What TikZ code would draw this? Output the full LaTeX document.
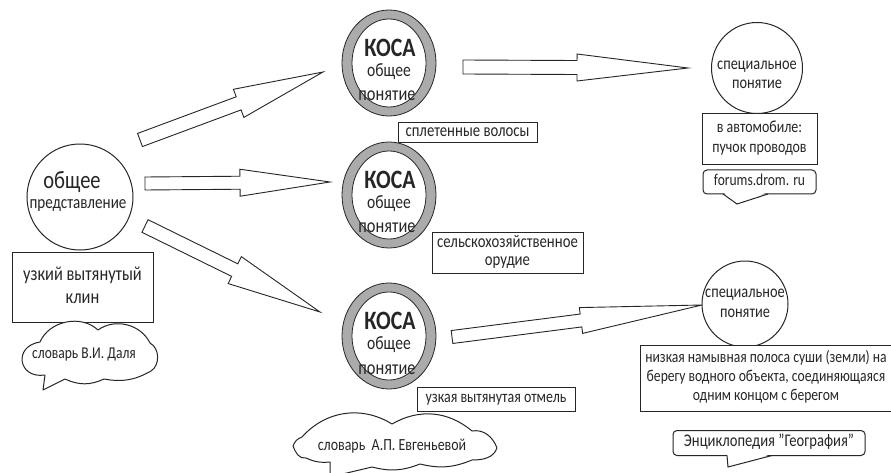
\documentclass[tikz,border=0pt]{standalone}
\usepackage{fontspec}
\setmainfont{Carlito}
\usetikzlibrary{calc,shapes.geometric}
\definecolor{ink}{HTML}{262626}
\definecolor{ringgray}{HTML}{ABABAB}
\newcommand{\sq}[1]{\scalebox{0.82}[1]{\begin{tabular}{@{}c@{}}#1\end{tabular}}}
\tikzset{
  ln/.style={draw=ink, line width=1pt},
  boxnode/.style={ln, fill=white, rectangle, inner sep=0pt, align=center, text=ink},
  txt/.style={text=ink, inner sep=0pt, align=center},
  fs/.style 2 args={font=\fontsize{#1}{#2}\selectfont},
  outerring/.style={ellipse, draw=ink, line width=0.8pt, fill=ringgray, minimum width=94pt, minimum height=106pt, inner sep=0pt},
  innerring/.style={ellipse, draw=ink, line width=0.8pt, fill=white, minimum width=74pt, minimum height=88pt, inner sep=0pt},
  plaincircle/.style={circle, ln, fill=white, inner sep=0pt},
  cloudpath/.style={ln, fill=white, line join=round},
  calloutbox/.style={ln, fill=white, rectangle, rounded corners=4pt, inner sep=0pt, text=ink},
  blockarrow/.style={draw=ink, line width=0.9pt, fill=white, line join=miter},
}
\newcommand{\blockarr}[5]{%
  \coordinate (hb) at ($(#2)!#5!(#1)$);
  \path[blockarrow] ($(#1)!#3!90:(#2)$) -- ($(hb)!#3!90:(#2)$) -- ($(hb)!#4!90:(#2)$) -- (#2)
    -- ($(hb)!#4!-90:(#2)$) -- ($(hb)!#3!-90:(#2)$) -- ($(#1)!#3!-90:(#2)$) -- cycle;
}
\begin{document}
\begin{tikzpicture}[x=1pt, y=-1pt]
\useasboundingbox[fill=white] (0,0) rectangle (891,473);

% arrow end points
\coordinate (a1s) at (140,140); \coordinate (a1e) at (323,72);
\coordinate (a2s) at (145,183.5); \coordinate (a2e) at (330,182);
\coordinate (a3s) at (145,226); \coordinate (a3e) at (320,312);
\coordinate (a4s) at (463,67);  \coordinate (a4e) at (688,68);
\coordinate (a5s) at (452,337); \coordinate (a5e) at (702,305);
\blockarr{a1s}{a1e}{7pt}{15pt}{90pt}
\blockarr{a2s}{a2e}{6.5pt}{13.5pt}{90pt}
\blockarr{a3s}{a3e}{7pt}{15pt}{95pt}
\blockarr{a4s}{a4e}{7pt}{13.5pt}{111pt}
\blockarr{a5s}{a5e}{6.5pt}{13pt}{122pt}

% left part
\node[plaincircle, minimum size=106pt] (gen) at (80,197) {};
\node[txt, fs={25}{25}] (gen1) at (72,184) {\sq{общее}};
\node[txt, fs={18.4}{18.4}] (gen2) at (78,205) {\sq{представление}};
\node[boxnode, minimum width=141pt, minimum height=70pt, fs={20}{23}] (wedge) at (82.5,287)
  {\sq{узкий вытянутый\\клин}};
\path[cloudpath] (40,342) to[bend left=55] (98,330) to[bend left=50] (150,343)
  to[bend left=60] (151,371) to[bend left=20] (104,379) to[bend left=25] (65,379)
  -- (43,390) coordinate (dalt) -- (45,375) to[bend left=90, looseness=2.1] cycle;
\node[txt, fs={16.5}{16.5}] (daltext) at (84,355) {\sq{словарь В.И. Даля}};

% KOSA circles
\foreach \nm/\cy in {k1/63, k2/195, k3/336}{
  \node[outerring] (\nm) at (389,\cy) {};
  \node[innerring] (\nm i) at (389,\cy) {};
  \node[txt, font=\bfseries\fontsize{26.5}{26.5}\selectfont] (\nm a) at (390,\cy-12) {\sq{КОСА}};
  \node[txt, fs={19}{19}] (\nm b) at (389,\cy+10) {\sq{общее}};
  \node[txt, fs={20}{20}] (\nm c) at (387,\cy+34) {\sq{понятие}};
}
\node[boxnode, minimum width=139pt, minimum height=20pt, fs={18}{18}] (l1) at (467.5,133) {\sq{сплетенные волосы}};
\node[boxnode, minimum width=151pt, minimum height=41pt, fs={18}{18}] (l2) at (507.5,252.5) {\sq{сельскохозяйственное\\орудие}};
\node[boxnode, minimum width=158pt, minimum height=24pt, fs={17}{17}] (l3) at (496,399) {\sq{узкая вытянутая отмель}};

\path[cloudpath] (302,437) to[bend left=40] (392,424) to[bend left=35] (472,431)
  to[out=10, in=110] (497,448) to[out=250, in=0] (472,460)
  to[bend left=18] (420,464) to[bend left=18] (372,467)
  -- (330,477) coordinate (evgt) -- (330,462)
  to[bend left=15] (306,458) to[out=190, in=290] (293,446) to[out=70, in=200] cycle;
\node[txt, fs={17}{17}] (evgtext) at (392,447) {\sq{словарь~~А.П. Евгеньевой}};

% right top
\node[plaincircle, minimum size=91pt] (s1) at (757,68) {};
\node[txt, fs={17.5}{17.5}] (s1a) at (757,66) {\sq{специальное}};
\node[txt, fs={17.5}{17.5}] (s1b) at (757,85) {\sq{понятие}};
\node[boxnode, minimum width=115pt, minimum height=51pt, fs={17}{20}] (d1) at (759.5,139) {\sq{в автомобиле:\\пучок проводов}};
\node[calloutbox, minimum width=113pt, minimum height=24pt, fs={16.5}{16.5}] (c1) at (759.5,182) {\sq{forums.drom. ru}};
\coordinate (c1t) at (737,204);
\fill[white] (723,192) -- (c1t) -- (768,192) -- cycle;
\draw[ln] (723,194) -- (c1t) -- (768,194);

% right bottom
\node[plaincircle, minimum size=86pt] (s2) at (745,304) {};
\node[txt, fs={17.5}{17.5}] (s2a) at (745,294) {\sq{специальное}};
\node[txt, fs={17.5}{17.5}] (s2b) at (745,314) {\sq{понятие}};
\draw[ln, fill=white] (640,345) rectangle (892,411);
\node[txt, fs={16.6}{19}] (d2) at (766,378) {\sq{низкая намывная полоса суши (земли) на\\берегу водного объекта, соединяющаяся\\одним концом с берегом}};
\node[calloutbox, minimum width=192pt, minimum height=25pt, fs={17.8}{17.8}] (c2) at (769,443) {\sq{Энциклопедия "География"}};
\coordinate (c2t) at (728,467);
\fill[white] (727,454) -- (c2t) -- (772,454) -- cycle;
\draw[ln] (727,455.5) -- (c2t) -- (772,455.5);
\end{tikzpicture}
\end{document}
